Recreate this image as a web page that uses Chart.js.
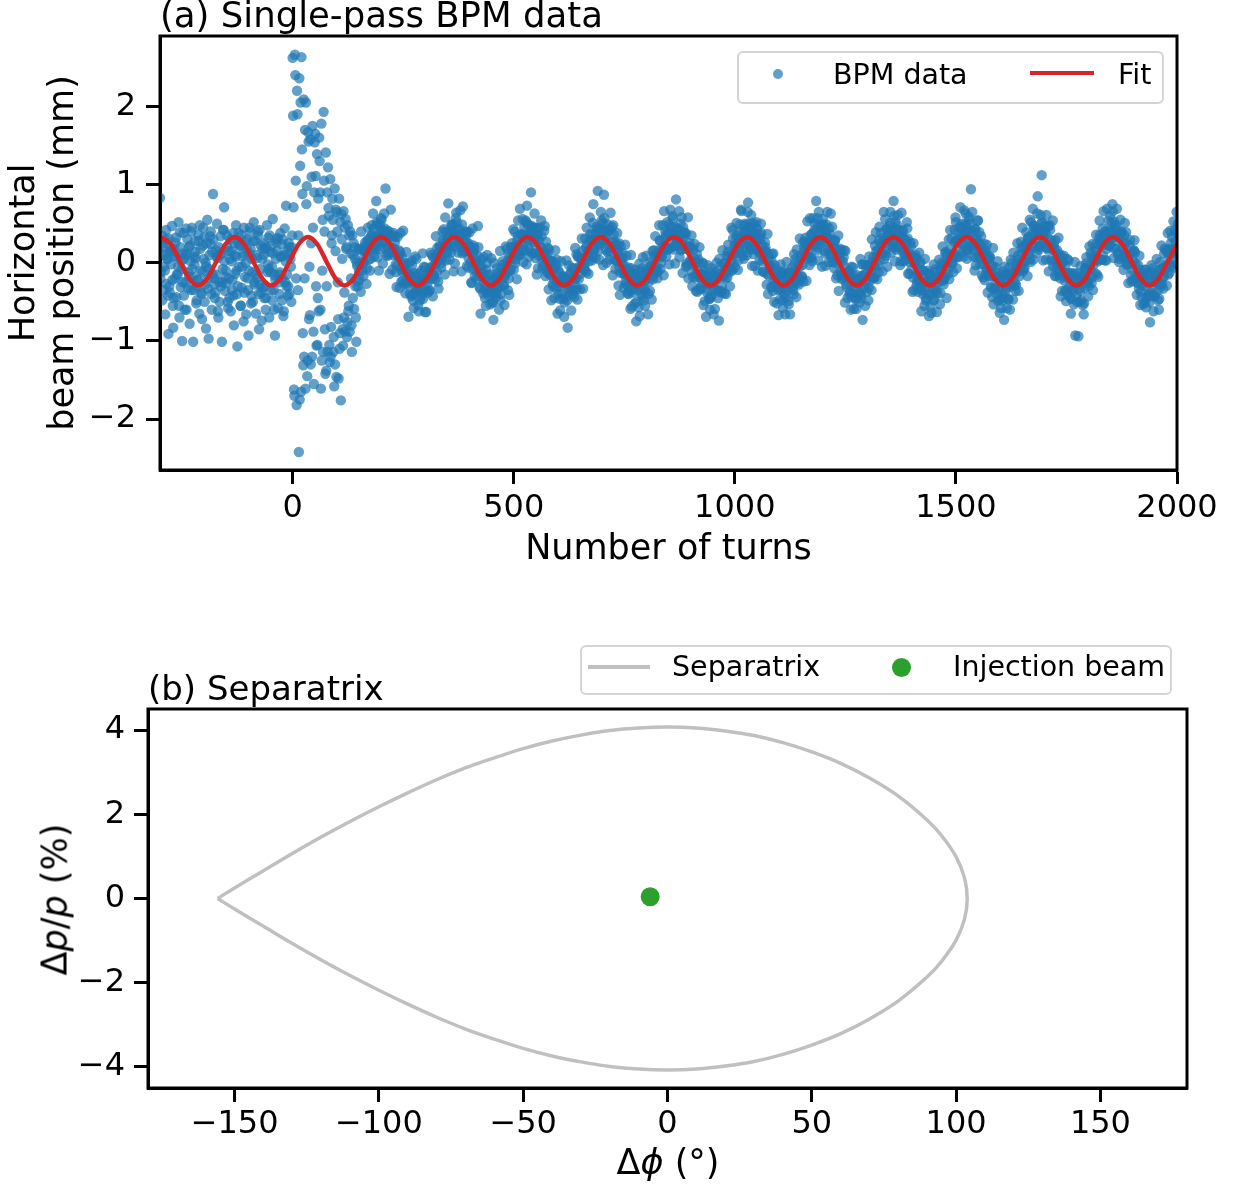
<!DOCTYPE html>
<html lang="en">
<head>
    <meta charset="UTF-8">
    <title>Single-pass BPM data / Separatrix</title>
    <script src="https://cdn.jsdelivr.net/npm/chart.js"></script>
    <style>
        body { margin: 0; background: #fff; font-family: "DejaVu Sans", sans-serif; }
        #page { position: relative; width: 1238px; height: 1185px; overflow: hidden; }
        canvas { position: absolute; left: 0; }
        .txt { position: absolute; white-space: nowrap; color: #000; }
        .axis-title { font-size: 35px; line-height: 35px; text-align: center; }
        .leg { font-size: 28.5px; line-height: 28.5px; }
        .legend-box { position: absolute; box-sizing: border-box; border: 2px solid #d4d4d4;
                      border-radius: 6px; background: rgba(255, 255, 255, 0.8); }
        .swatch { position: absolute; }
    </style>
</head>
<body>
<div id="page">
    <canvas id="bpmChart" width="1238" height="600" style="top: 0;"></canvas>
    <canvas id="sepChart" width="1238" height="585" style="top: 600px;"></canvas>

    <div class="txt" style="left: 160px; top: -3px; font-size: 35.5px; line-height: 35.5px;">(a) Single-pass BPM data</div>
    <div class="txt" style="left: 148px; top: 671px; font-size: 34px; line-height: 34px;">(b) Separatrix</div>

    <!-- legend, panel (a) -->
    <div class="legend-box" style="left: 737px; top: 51px; width: 427px; height: 53px;"></div>
    <div class="swatch" style="left: 773px; top: 69px; width: 10px; height: 10px; border-radius: 50%; background: rgba(31,119,180,0.7);"></div>
    <div class="txt leg" style="left: 833px; top: 61px;">BPM data</div>
    <div class="swatch" style="left: 1030px; top: 71px; width: 64px; height: 4px; background: #d62728;"></div>
    <div class="txt leg" style="left: 1118px; top: 61px;">Fit</div>

    <!-- legend, panel (b) -->
    <div class="legend-box" style="left: 580px; top: 645px; width: 592px; height: 50px;"></div>
    <div class="swatch" style="left: 588px; top: 665px; width: 62px; height: 3.5px; background: #c0c0c0;"></div>
    <div class="txt leg" style="left: 672px; top: 653px;">Separatrix</div>
    <div class="swatch" style="left: 892px; top: 658px; width: 19px; height: 19px; border-radius: 50%; background: #2ca02c;"></div>
    <div class="txt leg" style="left: 953px; top: 653px;">Injection beam</div>

    <!-- axis titles, panel (b) (need italic p / phi) -->
    <div class="txt axis-title" style="left: 468px; top: 1145px; width: 400px;">&Delta;<i>&#981;</i> (&deg;)</div>
    <div class="txt axis-title" style="left: -95px; top: 882px; width: 300px; transform: rotate(-90deg);">&Delta;<i>p</i>/<i>p</i> (%)</div>
</div>

<script>
    // ---------- panel (a): values ----------
    // BPM readings per 5-turn step: three in the "spread" lanes, two in the "core" lanes
    const turnStep = 5;
    const spreadOffsets = [0, 2, 4];
    const coreOffsets = [1, 3];

    // turns -300 .. -5 (before injection)
    const bpmPre = [
        .83,-.12,.35, -.48,.21,-.05, .10,-.66,.42, -.27,.05,-.91,
        .31,-.38,.15, -.02,.47,-.55, -.83,.18,-.20, .26,-.44,.08,
        -.15,.52,-.70, .39,-.31,-.08, -1.00,.12,-.42, .05,-.25,.44,
        -.60,.30,-.12, .20,-.78,.02, -.35,.45,-.18, -1.01,.08,.28,
        .14,-.52,-.30, -.22,.36,-.65, .48,-.10,-.40, -.72,.22,.05,
        .33,-.28,-.84, -.05,.55,-.33, -.97,.10,.24, .40,-.60,-.15,
        .88,-.20,-.45, -.38,.16,.50, .06,-.70,-.25, -.50,.34,.12,
        -1.01,-.08,.42, .71,-.36,-.10, -.26,.20,-.58, .15,-.45,.30,
        -.62,.02,-.22, .38,-.80,.10, -.14,.48,-.40, -1.07,.25,-.05,
        .22,-.55,.36, -.32,.08,-.75, .45,-.18,.00, -.66,.30,-.35,
        -.93,.12,.40, .18,-.42,-.12, -.50,.52,-.28, .28,-.65,.06,
        -.20,.35,-.85, .42,-.08,-.38, -.74,.18,.25, .10,-.30,-.60,
        -.45,.48,-.02, .32,-.70,.14, -.12,.22,-.48, .56,-.35,-.16,
        -.93,.05,.30, .15,-.58,-.25, -.40,.38,.08, .24,-.20,-.68,
        -.62,.44,.02, .73,-.15,-.42, -.30,.20,.12, .05,-.50,.35
    ];
    const corePre = [
        -.20,.12, .25,-.35, -.10,.30, .05,-.42, -.30,.18, .15,-.22, -.45,.08, .32,-.15,
        -.05,-.55, .20,.02, -.25,.38, -.60,.10, .12,-.32, -.18,.22, .40,-.08, -.35,-.02,
        .06,-.48, -.22,.28, .18,-.38, -.12,.45, -.50,.00, .25,-.20, -.08,.34, -.40,.14,
        .30,-.28, -.15,.08, -.62,.20, .10,-.30, -.25,.42, .02,-.18, .35,-.50, -.20,.05,
        .15,-.35, -.42,.25, .08,-.10, -.30,.38, .22,-.55, -.05,.12, -.38,.28, .18,-.20,
        -.10,.45, -.52,.05, .28,-.25, -.15,.10, .40,-.40, -.28,.22, .05,-.32, -.45,.18,
        .20,-.12, -.08,.35, -.35,-.05, .12,-.60, -.22,.26, .32,-.15, -.12,.08, -.48,.30,
        .10,-.25, -.30,.15, .25,-.40, -.05,.20
    ];
    // turns 0 .. 140 (injection kick)
    const bpmKick = [
        2.62,.71,-1.70, 2.66,1.05,-1.82, 2.20,-.35,-2.42, 2.36,1.24,-1.65,
        2.63,.88,-1.31, 2.09,-.20,-1.61, 2.05,.98,-1.25, 1.67,-.72,-.67,
        1.58,.25,-1.20, 1.75,-.88,.90, 1.54,1.11,-1.06, 1.39,-.45,-.62,
        1.60,.90,-1.61, 1.78,-.10,-1.14, 1.93,.40,-1.42, 1.41,-.30,-1.14,
        1.22,.60,-1.27, 1.07,-.82,.35, .82,-1.14,-1.58, .95,.15,-1.46,
        .65,-.25,-1.48, .82,-.90,-1.76, .62,.05,-1.06, .66,-.38,-.88,
        .56,.20,-.76, .48,-.55,-.88, .40,-.20,-1.14, .35,.10,-.59,
        .20,-.30,-1.01
    ];
    const coreKick = [
        1.88,-1.62, 2.40,-.20, 1.90,.35, -1.75,2.05, 1.45,-.90,
        -1.20,1.70, .75,-1.45, 1.55,-.05, -1.30,1.10, .45,-1.55,
        1.65,-.30, -1.05,.82, 1.30,-.60, -1.25,.55, 1.05,-.85,
        -1.38,.90, .70,-1.05, -1.20,.25, .55,-.95, -1.30,.68,
        .40,-.72, -1.10,.52, .30,-.85, -.70,.45, .18,-.95,
        -.62,.35, .12,-.80, -.45,.25, .05,-.70
    ];
    // turns 145 .. 280
    const osc0 = [
        .00,-.30,.18, -.11,.16,-.37, .40,-.10,.04, -.17,.15,.26,
        .15,-.27,.28, .45,.04,.16, -.10,.34,.48, .36,.63,.08,
        .19,.28,.79, .52,.07,.26, -.10,.49,.41, .57,.36,-.01,
        .27,.63,.19, .95,.10,.41, .09,.33,-.14, .34,.68,.13,
        -.09,.10,.35, .18,.33,-.12, -.31,.33,.08, .16,-.32,.38,
        -.07,.08,-.23, .41,-.27,-.04, -.39,.14,-.23, -.12,-.69,.00,
        -.39,-.22,.03, -.03,-.48,-.58, -.39,.08,-.18, .05,-.36,-.54
    ];
    const core0 = [
        -.04,-.24, -.21,-.01, .18,-.02, .01,.21, .15,-.07, .30,.22, .05,.18,
        .33,.44, .21,.17, .49,.35, .32,.18, .55,.42, .26,.44, .35,.22,
        .12,.40, .34,.20, .17,.38, .26,-.02, -.04,.09, .08,.14, -.24,-.12,
        -.10,-.02, -.01,-.27, -.26,-.15, -.16,-.43, -.41,-.13, -.27,-.33, -.14,-.23
    ];
    // from turn 285
    const osc1 = [
        -.62,-.14,-.28, -.24,-.42,.12, -.46,-.05,-.63, -.06,-.63,-.17,
        -.26,-.12,-.36, -.35,.13,-.05, .10,-.43,-.17, -.16,-.02,.34,
        .08,.19,-.24, -.33,.22,.09, -.01,.11,.40, .29,.43,-.15,
        .58,.03,.31, .25,.76,.16, .04,.23,.49, .48,.40,-.11,
        .36,-.01,.57, .64,.20,.28, .13,.44,.67, .36,-.11,.12,
        .72,.17,.38, .15,.40,-.04, .39,-.06,.24, .39,.14,-.25,
        -.26,.44,.22, .14,-.17,-.01, -.21,.02,.47, .20,-.17,-.33,
        -.65,.04,-.08, -.18,.07,-.35, -.45,-.55,.00, .10,-.16,-.37,
        -.35,-.53,.06
    ];
    const core1 = [
        -.34,-.48, -.10,-.23, -.37,-.19, -.22,-.35, -.38,-.10, -.07,-.21, -.14,.07,
        .07,-.21, -.11,.02, .14,.20, -.06,.06, .19,.27, .39,.13, .23,.34,
        .40,.13, .21,.49, .38,.32, .52,.43, .25,.23, .37,.49, .14,.27,
        .35,.27, .15,.06, .21,.01, -.08,.12, .19,-.01, -.11,.09, -.09,-.31,
        -.05,-.13, -.39,-.26, -.20,-.09, -.38,-.42, -.15,-.29
    ];
    // from turn 450
    const osc2 = [
        -.26,-.51,-.73, .00,-.38,-.18, -.44,-.07,-.32, -.17,-.60,.15,
        -.48,-.07,-.20, .02,-.28,-.54, -.18,.21,-.02, .18,-.35,-.20,
        -.41,.07,.20, .20,.05,.43, -.09,.40,.04, .22,-.21,.34,
        .54,.11,.69, .10,.37,.23, .56,.01,.45, .26,.54,-.02,
        .73,.37,.18, .08,.48,.90, .45,.12,.39, .27,.63,.06,
        .45,-.15,.36, -.07,.30,.45, .21,.54,.03, -.07,.06,.41,
        .47,-.17,.07, -.12,.19,-.34, .17,-.15,.02, -.48,.03,-.30,
        -.09,-.45,.16, -.32,.04,-.65, -.09,-.31,-.46, -.61,.02,-.24,
        -.18,-.46,-.69
    ];
    const core2 = [
        -.38,-.50, -.21,-.29, -.39,-.13, -.20,-.31, -.40,-.13, -.02,-.30, -.15,-.09,
        .02,.11, -.11,-.09, .25,.13, .12,-.01, .21,.29, .10,.19, .16,.36,
        .36,.16, .32,.52, .49,.29, .15,.37, .38,.46, .26,.13, .44,.33,
        .10,.14, .20,.34, -.04,.10, .14,.27, .11,-.07, -.14,-.01, .01,-.27,
        -.21,-.07, -.02,-.23, -.40,-.12, -.26,-.39, -.17,-.23
    ];
    // from turn 615
    const osc3 = [
        -.51,-.21,.03, -.23,-.83,-.42, -.03,-.33,-.14, -.61,-.07,-.34,
        -.19,-.44,.19, -.31,.11,-.47, .08,-.21,-.06, -.34,.06,.31,
        .15,-.33,-.05, -.02,.31,-.12, .45,.14,-.14, .02,.58,.28,
        .29,.03,.51, .75,.16,.30, .06,.46,.24, .92,.43,.04,
        .23,.65,.54, .39,-.03,.87, .57,.28,.16, .00,.49,.39,
        .42,.04,.64, .19,.46,-.16, .48,.04,.22, -.08,.24,.38,
        .16,-.29,-.06, -.41,.21,.06, .13,-.13,-.32, -.14,.23,-.27,
        .09,-.39,-.06, -.40,-.15,-.59, .10,-.56,-.23, -.38,-.14,-.52,
        -.09,-.75,-.22
    ];
    const core3 = [
        -.19,-.27, -.48,-.35, -.24,-.13, -.36,-.40, -.07,-.21, -.20,-.34, .08,-.05,
        -.14,.04, .04,-.09, -.09,.19, .23,.09, .16,.37, .36,.08, .17,.30,
        .38,.44, .15,.27, .36,.44, .51,.25, .29,.40, .40,.13, .15,.43,
        .27,.21, .36,.27, .04,.02, .13,.25, -.13,.00, .06,-.02, -.15,-.24,
        -.09,-.29, -.36,-.16, -.07,-.27, -.34,-.14, -.28,-.50
    ];
    // from turn 780
    const osc4 = [
        -.19,-.57,-.01, -.68,-.25,-.41, -.07,.07,-.48, -.33,-.55,-.12,
        .09,-.20,-.66, -.40,.00,-.11, -.04,-.47,.15, -.21,.16,-.08,
        .34,-.12,.10, -.20,.12,.48, .29,-.08,.07, .09,.48,-.16,
        .66,.19,.36, .08,.52,.17, .38,-.02,.68, .20,.46,.60,
        .57,.17,.37, -.01,.81,.27, .44,.29,.66, .07,.50,.18,
        .58,-.13,.33, .22,.39,-.05, .37,-.03,.58, -.20,.21,.03,
        .19,.35,-.30, -.18,-.03,.24, .00,-.36,.11, -.37,.00,-.18,
        .20,-.32,-.15, -.29,.00,-.54, -.11,-.49,-.16, -.69,-.21,-.03,
        -.27,-.46,-.60
    ];
    const core4 = [
        -.35,-.21, -.11,-.32, -.44,-.16, -.24,-.37, -.09,-.15, -.24,-.36, -.03,-.11,
        -.16,.10, .06,-.05, -.11,.16, .28,.00, .15,.21, .31,.40, .17,.19,
        .49,.37, .33,.20, .38,.46, .22,.31, .22,.42, .36,.16, .26,.46,
        .38,.18, -.01,.21, .17,.25, .02,-.11, .17,.06, -.19,-.15, -.10,.04,
        -.34,-.20, -.14,-.01, -.15,-.33, -.37,-.24, -.18,-.46
    ];
    // from turn 945
    const osc5 = [
        -.43,-.07,-.25, -.12,-.66,-.34, -.59,-.19,.00, -.21,-.45,-.74,
        .05,-.14,-.36, -.38,.16,-.16, -.01,-.39,-.20, -.40,.09,.14,
        .23,-.06,-.30, .02,.45,-.10, .42,.00,.22, -.06,.22,.51,
        .35,-.09,.17, .18,.49,.68, .66,.29,.09, .05,.48,.41,
        .38,.10,.65, .77,.45,.21, .18,.61,-.04, .40,.11,.48,
        -.04,.31,.52, .44,-.10,.16, .13,.36,.50, .38,.02,-.11,
        -.12,.13,.20, .15,-.28,.37, -.40,.07,-.08, -.05,-.31,.11,
        -.31,.12,-.50, -.03,-.28,-.18, -.52,-.14,-.67, -.19,-.47,-.02,
        -.35,-.14,-.58
    ];
    const core5 = [
        -.44,-.16, -.27,-.33, -.12,-.21, -.35,-.37, -.16,-.04, -.31,-.18, -.01,-.09,
        -.10,-.19, .08,-.12, -.08,.12, .31,.11, .12,.32, .25,.03, .40,.32,
        .13,.26, .39,.50, .25,.21, .50,.36, .31,.17, .51,.38, .20,.38,
        .28,.15, .03,.31, .23,.09, .05,.26, .14,-.14, -.16,-.03, -.04,.02,
        -.36,-.24, -.20,-.12, -.09,-.35, -.33,-.22, -.21,-.48
    ];
    // from turn 1110
    const osc6 = [
        -.11,-.40,-.66, -.45,.01,-.25, -.27,-.53,-.11, -.66,-.13,-.32,
        -.06,-.35,.11, -.25,.05,-.44, .17,-.16,-.02, -.28,.31,-.21,
        .06,-.18,.26, -.24,.19,.09, .32,-.23,.53, .15,.26,-.03,
        .57,.06,.37, .02,.57,.26, .42,.22,.79, .16,.57,.03,
        .65,.33,.47, .28,-.05,.56, .49,.40,.12, -.04,.49,.65,
        .32,.01,.37, .11,.63,.06, .46,.11,.20, -.07,.29,-.20,
        .17,-.16,.35, -.36,.05,-.11, .16,-.21,.02, -.20,.16,-.51,
        .15,-.28,-.13, -.45,-.12,-.40, -.18,-.60,-.05, -.44,-.06,-.59,
        -.17,-.32,-.47
    ];
    const core6 = [
        -.33,-.13, -.16,-.36, -.49,-.27, -.22,-.14, -.27,-.40, -.01,-.12, -.26,-.22,
        -.05,.09, -.17,-.03, .14,.27, .23,.05, .09,.22, .35,.07, .24,.38,
        .50,.29, .19,.47, .37,.24, .48,.42, .27,.15, .40,.32, .18,.44,
        .30,.19, .01,.28, .28,.00, .04,.10, .09,.18, -.16,-.14, .07,-.05,
        -.18,-.31, -.18,-.10, -.38,-.29, -.40,-.20, -.25,-.45
    ];
    // from turn 1275
    const osc7 = [
        -.59,-.16,-.27, -.21,-.51,.05, -.41,-.02,-.73, -.02,-.32,-.15,
        -.55,-.04,-.37, -.03,-.48,.08, -.17,-.03,-.35, .30,-.20,-.03,
        -.19,.22,.39, .15,-.21,-.03, -.12,.46,.25, .38,.13,-.11,
        .12,.65,.29, .56,.09,.44, -.05,.38,.23, .47,.65,.13,
        .33,.20,.79, .60,.02,.44, .17,.48,.61, .36,.22,-.03,
        .02,.64,.40, .42,.02,.19, .11,.29,.52, .44,-.14,.13,
        -.14,.26,-.09, .08,-.37,.25, -.35,.00,.10, .06,-.24,-.37,
        -.21,.13,-.26, .01,-.62,-.10, -.40,-.17,-.55, .05,-.48,-.26,
        -.39,-.13,-.68
    ];
    const core7 = [
        -.39,-.21, -.26,-.39, -.45,-.17, -.16,-.30, -.24,-.03, -.04,-.32, -.23,-.10,
        .01,.07, -.19,-.07, .08,.16, .29,.03, .13,.24, .32,.05, .15,.43,
        .34,.28, .51,.42, .26,.24, .41,.53, .20,.33, .42,.34, .24,.15,
        .32,.12, .04,.24, .31,.11, .01,.21, .03,-.19, .07,-.01, -.29,-.16,
        -.12,-.01, -.31,-.35, -.10,-.24, -.31,-.45, -.10,-.23
    ];
    // from turn 1440
    const osc8 = [
        -.15,-.56,-.23, -.64,-.18,-.48, -.02,-.32,-.08, -.36,-.63,-.21,
        -.18,.04,-.53, -.39,-.08,-.03, .21,-.28,-.18, -.19,.14,-.45,
        .10,-.08,.30, -.21,.42,.10, .31,-.01,-.12, .12,.42,.58,
        .52,-.07,.30, .07,.39,.16, .71,.33,.50, .25,.08,.67,
        .49,.63,.17, .05,.40,.59, .55,.21,.94, .27,.65,.08,
        .40,-.10,.43, -.03,.31,.54, .54,.09,.15, -.02,.34,-.16,
        .13,-.19,.24, -.22,.15,-.07, .23,-.38,.05, -.17,.07,-.31,
        -.04,-.44,.19, -.53,-.17,-.33, -.06,-.40,.02, -.49,-.18,-.64,
        -.23,-.58,-.16
    ];
    const core8 = [
        -.41,-.15, -.24,-.35, -.47,-.20, -.11,-.39, -.25,-.19, -.09,.00, -.23,-.21,
        .12,.00, -.01,-.14, .10,.18, .00,.09, .06,.26, .28,.08, .26,.46,
        .45,.25, .14,.36, .39,.47, .30,.17, .50,.39, .17,.21, .29,.43,
        .07,.21, .26,.39, .23,.05, -.02,.11, .13,-.15, -.09,.05, .08,-.13,
        -.32,-.04, -.19,-.32, -.12,-.18, -.35,-.47, -.21,-.29
    ];
    // from turn 1605
    const osc9 = [
        -.48,-.11,-.73, -.05,-.37,-.21, -.58,-.16,-.47, -.15,-.60,.04,
        -.28,.00,-.47, .13,-.29,-.15, -.36,-.07,.25, .09,-.36,-.17,
        -.08,.27,.12, .45,-.11,.02, -.07,.22,.39, .25,-.17,.33,
        .11,.55,.01, .52,.22,.69, .04,.47,.35, .43,.12,.63,
        .85,.36,.20, .22,.61,1.12, .52,.03,.40, .25,.43,.04,
        .61,.19,.47, -.11,.48,.22, .29,.02,.54, -.05,.20,-.17,
        .29,-.17,.16, -.03,.32,-.15, .11,-.43,-.02, -.36,.01,.09,
        -.12,-.36,-.49, -.35,.05,-.14, .03,-.31,-.45, -.65,-.13,-.37,
        -.18,-.53,.01
    ];
    const core9 = [
        -.41,-.45, -.15,-.29, -.32,-.46, -.06,-.19, -.30,-.12, -.13,-.26, -.28,.00,
        .04,-.10, -.02,.19, .20,-.08, .02,.15, .25,.31, .04,.16, .29,.37,
        .47,.21, .29,.40, .44,.17, .22,.50, .37,.31, .48,.39, .19,.17,
        .30,.42, .05,.18, .24,.16, .03,-.06, .09,-.11, -.20,.00, .07,-.13,
        -.23,-.03, -.19,-.41, -.13,-.21, -.46,-.33, -.25,-.14
    ];
    // from turn 1770
    const osc10 = [
        -.93,-.23,-.50, -.13,-.94,-.33, -.50,-.04,-.19, -.20,-.54,-.66,
        -.52,-.08,-.01, .07,-.26,-.43, -.23,.21,-.08, .13,-.26,.24,
        -.35,.06,-.13, .19,.36,-.15, .06,-.18,.31, .54,.27,.04,
        .04,.44,.66, .36,.03,.41, .03,.69,.27, .54,.22,.60,
        .30,.52,.75, .66,.06,.43, .18,.45,.69, .35,.13,.01,
        .05,.55,.38, .39,.18,-.09, .09,.51,.26, .39,-.03,.09,
        -.26,.10,.29, .12,-.24,-.09, -.22,.16,.29, .13,-.20,-.41,
        -.25,-.03,-.33, .09,-.54,-.19, -.44,-.18,-.53, -.15,-.50,-.09,
        -.57,-.25,-.42
    ];
    const core10 = [
        -.29,-.42, -.17,-.23, -.36,-.48, -.17,-.25, -.32,-.06, -.11,-.22, -.30,-.03,
        .09,-.19, -.03,.03, .15,.24, .02,.04, .36,.24, .22,.09, .31,.39,
        .18,.27, .22,.42, .40,.20, .33,.53, .48,.28, .11,.33, .32,.40,
        .19,.06, .35,.24, -.01,.03, .08,.22, -.16,-.02, .02,.15, -.01,-.19,
        -.26,-.13, -.09,-.37, -.29,-.15, -.09,-.30, -.45,-.17
    ];
    // from turn 1935
    const osc11 = [
        -.13,-.51,-.76, -.38,-.03,-.24, -.07,-.62,-.43, -.41,-.16,.05,
        -.17,-.48,-.60, -.46,.01,-.08, .22,-.19,-.33, -.18,.18,-.03,
        .16,-.29,.38, -.15,.18,-.01, .41,-.04,.33, .13,.53,-.06,
        .42,.11,.65, -.02,.50,.35
    ];
    const core11 = [
        -.40,-.42, -.24,-.12, -.43,-.30, -.15,-.23, -.26,-.35, -.09,-.29, -.27,-.07,
        .12,-.08, -.06,.14, .09,-.13, .25,.17, .00,.13, .28,.39, .18,.14
    ];

    const blockStarts = [-300, 0, 145, 285, 450, 615, 780, 945, 1110, 1275, 1440, 1605, 1770, 1935];
    const spreadBlocks = [bpmPre, bpmKick, osc0, osc1, osc2, osc3, osc4, osc5, osc6, osc7, osc8, osc9, osc10, osc11];
    const coreBlocks = [corePre, coreKick, core0, core1, core2, core3, core4, core5, core6, core7, core8, core9, core10, core11];

    // fitted oscillation, read at peaks / troughs / crossings
    const fitTurns = [
        -300, -275.7, -255.0, -234.3, -213.6, -193.0, -172.3, -151.6,
        -130.9, -110.2, -89.5, -68.8, -48.2, -27.5, -6.8, 13.9,
        34.6, 55.3, 76.0, 96.7, 117.4, 138.0, 158.7, 179.4,
        200.1, 220.8, 241.5, 262.2, 282.9, 303.5, 324.2, 344.9,
        365.6, 386.3, 407.0, 427.7, 448.4, 469.0, 489.7, 510.4,
        531.1, 551.8, 572.5, 593.2, 613.9, 634.5, 655.2, 675.9,
        696.6, 717.3, 738.0, 758.7, 779.4, 800.0, 820.7, 841.4,
        862.1, 882.8, 903.5, 924.2, 944.9, 965.5, 986.2, 1006.9,
        1027.6, 1048.3, 1069.0, 1089.7, 1110.4, 1131.0, 1151.7, 1172.4,
        1193.1, 1213.8, 1234.5, 1255.2, 1275.9, 1296.5, 1317.2, 1337.9,
        1358.6, 1379.3, 1400.0, 1420.7, 1441.4, 1462.0, 1482.7, 1503.4,
        1524.1, 1544.8, 1565.5, 1586.2, 1606.9, 1627.5, 1648.2, 1668.9,
        1689.6, 1710.3, 1731.0, 1751.7, 1772.4, 1793.0, 1813.7, 1834.4,
        1855.1, 1875.8, 1896.5, 1917.2, 1937.9, 1958.5, 1979.2, 2000
    ];
    const fitValues = [
        .33,.24,.02,-.20,-.29,-.20,.02,.24,
        .33,.24,.02,-.20,-.29,-.20,.02,.24,
        .33,.24,.02,-.20,-.29,-.20,.02,.24,
        .33,.24,.02,-.20,-.29,-.20,.02,.24,
        .33,.24,.02,-.20,-.29,-.20,.02,.24,
        .33,.24,.02,-.20,-.29,-.20,.02,.24,
        .33,.24,.02,-.20,-.29,-.20,.02,.24,
        .33,.24,.02,-.20,-.29,-.20,.02,.24,
        .33,.24,.02,-.20,-.29,-.20,.02,.24,
        .33,.24,.02,-.20,-.29,-.20,.02,.24,
        .33,.24,.02,-.20,-.29,-.20,.02,.24,
        .33,.24,.02,-.20,-.29,-.20,.02,.24,
        .33,.24,.02,-.20,-.29,-.20,.02,.24,
        .33,.24,.02,-.20,-.29,-.20,.02,.24
    ];
    const turnTicks = [0, 500, 1000, 1500, 2000];
    const posTicks = [-2, -1, 0, 1, 2];

    // ---------- panel (b) ----------
    const sepPhase = [
        -155.9, -150, -140, -130, -120, -110, -100, -90, -80, -70, -60, -50, -40, -30, -20, -10,
        0, 10, 20, 30, 40, 50, 60, 70, 80, 90, 95, 100, 102.9, 103.85,
        102.9, 100, 95, 90, 80, 70, 60, 50, 40, 30, 20, 10, 0,
        -10, -20, -30, -40, -50, -60, -70, -80, -90, -100, -110, -120, -130, -140, -150, -155.9
    ];
    const sepDp = [
        0, .25, .66, 1.07, 1.46, 1.83, 2.18, 2.51, 2.82, 3.10, 3.34, 3.56, 3.74, 3.88, 3.99, 4.05,
        4.07, 4.05, 3.98, 3.87, 3.70, 3.48, 3.21, 2.86, 2.43, 1.86, 1.49, .99, .49, 0,
        -.49, -.99, -1.49, -1.86, -2.43, -2.86, -3.21, -3.48, -3.70, -3.87, -3.98, -4.05, -4.07,
        -4.05, -3.99, -3.88, -3.74, -3.56, -3.34, -3.10, -2.82, -2.51, -2.18, -1.83, -1.46, -1.07, -.66, -.25, 0
    ];
    const injPhase = [-6];
    const injDp = [0.04];
    const phaseTicks = [-150, -100, -50, 0, 50, 100, 150];
    const dpTicks = [-4, -2, 0, 2, 4];

    // ---------- build ----------
    const bpmPoints = [];
    function addBlock(start, ys, offsets) {
        const per = offsets.length;
        ys.forEach((y, i) => {
            bpmPoints.push({ x: start + Math.floor(i / per) * turnStep + offsets[i % per], y: y });
        });
    }
    blockStarts.forEach((start, k) => {
        addBlock(start, spreadBlocks[k], spreadOffsets);
        addBlock(start, coreBlocks[k], coreOffsets);
    });
    const fitPoints = fitTurns.map((x, i) => ({ x: x, y: fitValues[i] }));
    const sepPoints = sepPhase.map((x, i) => ({ x: x, y: sepDp[i] }));
    const injPoints = injPhase.map((x, i) => ({ x: x, y: injDp[i] }));

    Chart.defaults.font.family = "'DejaVu Sans', sans-serif";
    Chart.defaults.color = '#000';

    const tickFont = { size: 32 };
    const axisTitleFont = { size: 35, lineHeight: 1.1 };

    function minusLabel(v) { return v < 0 ? '\u2212' + Math.abs(v) : String(v); }
    function fixedTicks(values) {
        return scale => { scale.ticks = values.map(v => ({ value: v })); };
    }
    function axis(min, max, tickValues, size, isX, padding) {
        return {
            type: 'linear', min: min, max: max,
            afterBuildTicks: fixedTicks(tickValues),
            afterFit: s => { if (isX) s.height = size; else s.width = size; },
            grid: { drawOnChartArea: false, tickLength: 14, tickWidth: 3, tickColor: '#000' },
            border: { color: '#000', width: 3 },
            ticks: { font: tickFont, color: '#000', padding: padding, maxRotation: 0, autoSkip: false, callback: minusLabel }
        };
    }

    // box round the plot area
    const framePlugin = {
        id: 'frame',
        afterDatasetsDraw(chart) {
            const { ctx, chartArea: a } = chart;
            ctx.save();
            ctx.strokeStyle = '#000';
            ctx.lineWidth = 3;
            ctx.strokeRect(a.left, a.top, a.right - a.left, a.bottom - a.top);
            ctx.restore();
        }
    };

    const xTurns = axis(-300, 2000, turnTicks, 130, true, 5);
    xTurns.title = { display: true, text: 'Number of turns', font: axisTitleFont, color: '#000', padding: { top: 0, bottom: 31 } };
    const yPos = axis(-2.65, 2.9, posTicks, 160, false, 10);
    yPos.title = { display: true, text: ['Horizontal', 'beam position (mm)'], font: axisTitleFont, color: '#000', padding: { top: 6, bottom: 0 } };

    new Chart(document.getElementById('bpmChart'), {
        type: 'scatter',
        data: {
            datasets: [
                { label: 'Fit', data: fitPoints, showLine: true, borderColor: '#d62728', borderWidth: 4.5,
                  pointRadius: 0, cubicInterpolationMode: 'monotone', order: 0, clip: 0 },
                { label: 'BPM data', data: bpmPoints, backgroundColor: 'rgba(31,119,180,0.7)',
                  borderWidth: 0, pointRadius: 5.2, order: 1, clip: 0 }
            ]
        },
        options: {
            responsive: false, animation: false, events: [],
            layout: { padding: { top: 36, right: 61, left: 0, bottom: 0 } },
            plugins: { legend: { display: false }, tooltip: { enabled: false } },
            scales: { x: xTurns, y: yPos }
        },
        plugins: [framePlugin]
    });

    new Chart(document.getElementById('sepChart'), {
        type: 'scatter',
        data: {
            datasets: [
                { label: 'Injection beam', data: injPoints, backgroundColor: '#2ca02c', borderWidth: 0,
                  pointRadius: 9.5, order: 0 },
                { label: 'Separatrix', data: sepPoints, showLine: true, borderColor: '#c0c0c0', borderWidth: 3.5,
                  pointRadius: 0, tension: 0.35, order: 1 }
            ]
        },
        options: {
            responsive: false, animation: false, events: [],
            layout: { padding: { top: 109, right: 51, left: 0, bottom: 0 } },
            plugins: { legend: { display: false }, tooltip: { enabled: false } },
            scales: {
                x: axis(-180, 180, phaseTicks, 97, true, 3),
                y: axis(-4.5, 4.5, dpTicks, 148, false, 9)
            }
        },
        plugins: [framePlugin]
    });
</script>
</body>
</html>
